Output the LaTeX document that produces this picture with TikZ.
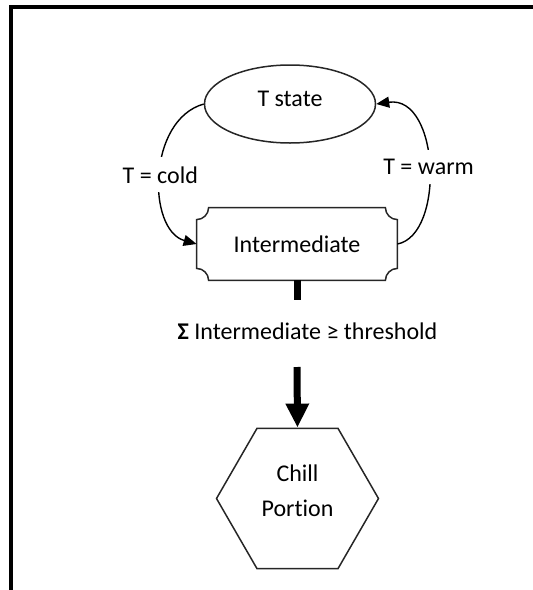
\documentclass[tikz,border=0pt]{standalone}
\usepackage{fontspec}
\setmainfont{Carlito}[Ligatures=NoCommon]
\usetikzlibrary{shapes.geometric,arrows.meta}
\begin{document}
\begin{tikzpicture}[x=0.5pt,y=0.5pt,
  every node/.style={font=\fontsize{12}{14.4}\selectfont, text=black},
  frame/.style={line width=2pt, line join=miter},
  outline/.style={draw=black!85, line width=0.75pt},
  flow/.style={draw=black, line width=0.7pt, -{Triangle[length=6.5pt,width=5.5pt]}},
  lbl/.style={fill=white, inner xsep=1pt, inner ysep=4.5pt},
  heavy/.style={line width=3.5pt}]
\useasboundingbox (0,0) rectangle (533,-590);

% page frame (left and top rules)
\draw[frame] (11,-590) -- (11,-7) -- (533,-7);

% T state
\node (ts) [ellipse, outline, inner sep=0pt, minimum width=85.5pt, minimum height=39pt] at (290,-104) {};
\node (tstext) at ([yshift=2.5pt]ts.center) {T state};

% Intermediate box with scooped corners
\node (inter) [inner sep=0pt, minimum width=100pt, minimum height=36pt] at (297,-244) {Intermediate};
\draw[outline] ([xshift=6pt]inter.north west) -- ([xshift=-6pt]inter.north east)
  arc[start angle=180, end angle=270, radius=6pt] -- ([yshift=6pt]inter.south east)
  arc[start angle=90, end angle=180, radius=6pt] -- ([xshift=6pt]inter.south west)
  arc[start angle=0, end angle=90, radius=6pt] -- ([yshift=-6pt]inter.north west)
  arc[start angle=270, end angle=360, radius=6pt] -- cycle;

% Chill Portion hexagon
\node (hex) [regular polygon, regular polygon sides=6, outline, inner sep=0pt,
  minimum size=81pt] at (297.5,-498.5) {};
\node (hextext) [align=center, font=\fontsize{12}{17.5}\selectfont] at ([yshift=3.75pt]hex.center) {Chill\\Portion};

% condition label between box and hexagon
\node (cond) at (307.5,-331) {\textbf{Σ} Intermediate ≥ threshold};
\coordinate (c1) at (297,-300);
\coordinate (c2) at (297,-367);

% loop between the states
\draw[flow] (ts.west) .. controls (147,-120) and (147,-230) .. node[lbl] {T = cold} (inter.west);
\draw[flow] (inter.east) .. controls (445,-235) and (440,-95) .. node[lbl] {T = warm} (ts.east);

% accumulation to chill portion
\draw[heavy] (inter.south) -- (c1);
\draw[heavy, -{Triangle[length=12pt,width=11pt]}] (c2) -- (hex.north);
\end{tikzpicture}
\end{document}
